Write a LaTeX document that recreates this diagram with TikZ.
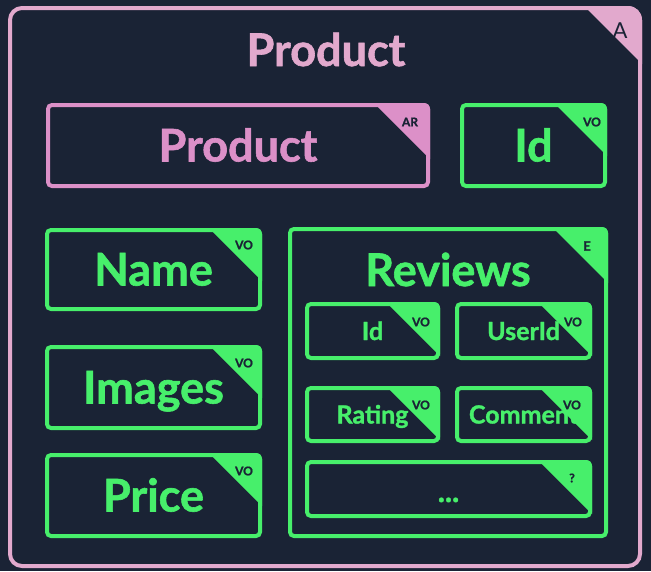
\documentclass[tikz,border=0pt]{standalone}
\usepackage{fontspec}
\setmainfont{Lato}[BoldFeatures={FakeBold=1.3}]
\usetikzlibrary{calc}
\definecolor{bg}{HTML}{1A2335}
\definecolor{pinkA}{HTML}{E2A9CD}
\definecolor{pinkB}{HTML}{DC90C8}
\definecolor{grn}{HTML}{47EF6B}
\tikzset{
  dbox/.style={draw=#1, line width=4pt, fill=bg, rounded corners=4pt, inner sep=0pt, text=#1},
  bigtxt/.style={font=\fontsize{45}{48}\selectfont\bfseries, text height=32pt, text depth=0pt},
  smalltxt/.style={font=\fontsize{25}{28}\selectfont\bfseries, text height=18pt, text depth=0pt},
  tag/.style={text=bg, font=\fontsize{12}{13}\selectfont\bfseries, inner sep=0pt},
}
\newcommand\cornertri[3]{\fill[#1] ($(#2.north east)+(-#3,0)$) [rounded corners=6pt] -- (#2.north east) [sharp corners] -- ($(#2.north east)+(0,#3)$) -- cycle;}
\begin{document}
\begin{tikzpicture}[x=1pt,y=-1pt]
\useasboundingbox (0,0) rectangle (651,571);
\fill[bg] (0,0) rectangle (651,571);
% outer aggregate
\node[draw=pinkA, line width=4pt, fill=bg, rounded corners=12pt, inner sep=0pt,
      minimum width=630pt, minimum height=558pt] (agg) at (325,287) {};
\fill[pinkA] ($(agg.north east)+(-58,0)$) [rounded corners=14pt] -- (agg.north east) [sharp corners] -- ($(agg.north east)+(0,58)$) -- cycle;
\node[text=bg, font=\fontsize{22}{24}\selectfont, inner sep=0pt] (tagA) at (620,31) {A};
\node[bigtxt, text=pinkA] (title) at (326,50) {Product};
% aggregate root
\node[dbox=pinkB, bigtxt, minimum width=380pt, minimum height=81pt] (ar) at (238,145.5) {Product};
\cornertri{pinkB}{ar}{56}
\node[tag] (tagAR) at (410,122) {AR};
% id
\node[dbox=grn, bigtxt, minimum width=143pt, minimum height=81pt] (id) at (533.5,145.5) {Id};
\cornertri{grn}{id}{53}
\node[tag] (tagId) at (592,122) {VO};
% name, images, price
\node[dbox=grn, bigtxt, minimum width=213pt, minimum height=79pt] (name) at (153.5,269.5) {Name};
\cornertri{grn}{name}{53}
\node[tag] (tagName) at (244,245) {VO};
\node[dbox=grn, bigtxt, minimum width=213pt, minimum height=81pt] (images) at (153.5,387.5) {Images};
\cornertri{grn}{images}{53}
\node[tag] (tagImages) at (244,363) {VO};
\node[dbox=grn, bigtxt, minimum width=213pt, minimum height=81pt] (price) at (153.5,495.5) {Price};
\cornertri{grn}{price}{53}
\node[tag] (tagPrice) at (244,471) {VO};
% reviews entity
\node[dbox=grn, minimum width=316pt, minimum height=307pt] (reviews) at (448,382.5) {};
\cornertri{grn}{reviews}{56}
\node[tag, font=\fontsize{13}{14}\selectfont\bfseries] (tagE) at (587,246) {E};
\node[bigtxt, text=grn] (revtitle) at (448,270) {Reviews};
% inner value objects
\node[dbox=grn, smalltxt, minimum width=131pt, minimum height=54pt] (rid) at (372.5,331) {Id};
\cornertri{grn}{rid}{54}
\node[tag] (tagRid) at (421,322) {VO};
\node[dbox=grn, smalltxt, minimum width=133pt, minimum height=54pt] (uid) at (523.5,331) {UserId};
\cornertri{grn}{uid}{54}
\node[tag] (tagUid) at (573,322) {VO};
\node[dbox=grn, smalltxt, minimum width=131pt, minimum height=53pt] (rating) at (372.5,414.5) {Rating};
\cornertri{grn}{rating}{54}
\node[tag] (tagRating) at (421,405) {VO};
\node[dbox=grn, smalltxt, minimum width=133pt, minimum height=53pt] (comment) at (523.5,414.5) {Comment};
\cornertri{grn}{comment}{54}
\node[tag] (tagComment) at (572,405) {VO};
\node[dbox=grn, smalltxt, minimum width=283pt, minimum height=54pt] (more) at (448.5,489) {\raisebox{-4pt}[0pt][0pt]{\fontsize{30}{30}\selectfont...}};
\cornertri{grn}{more}{54}
\node[tag] (tagMore) at (572,478) {?};
\end{tikzpicture}
\end{document}
